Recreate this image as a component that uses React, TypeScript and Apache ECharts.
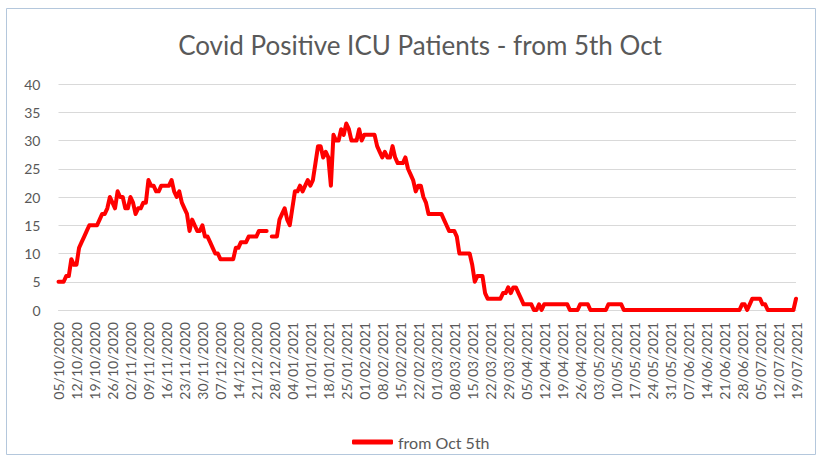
import React, { useEffect, useRef } from "react";
import * as echarts from "echarts";

// Daily ICU patient counts, 05/10/2020 .. 19/07/2021, split by month
const oct2020 = [5, 5, 5, 6, 6, 9, 8, 8, 11, 12, 13, 14, 15, 15, 15, 15, 16, 17, 17, 18, 20, 19, 18, 21, 20, 20, 18];
const nov2020 = [18, 20, 19, 17, 18, 18, 19, 19, 23, 22, 22, 21, 21, 22, 22, 22, 22, 23, 21, 20, 21, 19, 18, 17, 14, 16, 15, 14, 14, 15];
const dec2020 = [13, 13, 12, 11, 10, 10, 9, 9, 9, 9, 9, 9, 11, 11, 12, 12, 12, 13, 13, 13, 13, 14, 14, 14, 14, null, 13, 13, 13, 16, 17];
const jan2021 = [18, 16, 15, 18, 21, 21, 22, 21, 22, 23, 22, 23, 26, 29, 29, 27, 28, 27, 22, 31, 30, 30, 32, 31, 33, 32, 30, 30, 30, 32, 30];
const feb2021 = [31, 31, 31, 31, 31, 29, 28, 27, 28, 27, 27, 29, 27, 26, 26, 26, 27, 25, 24, 23, 21, 22, 22, 20, 19, 17, 17, 17];
const mar2021 = [17, 17, 17, 16, 15, 14, 14, 14, 13, 10, 10, 10, 10, 10, 8, 5, 6, 6, 6, 3, 2, 2, 2, 2, 2, 2, 3, 3, 4, 3, 4];
const apr2021 = [4, 3, 2, 1, 1, 1, 1, 0, 0, 1, 0, 1, 1, 1, 1, 1, 1, 1, 1, 1, 1, 0, 0, 0, 0, 1, 1, 1, 1, 0];
const may2021 = [0, 0, 0, 0, 0, 0, 1, 1, 1, 1, 1, 1, 0, 0, 0, 0, 0, 0, 0, 0, 0, 0, 0, 0, 0, 0, 0, 0, 0, 0, 0];
const jun2021 = [0, 0, 0, 0, 0, 0, 0, 0, 0, 0, 0, 0, 0, 0, 0, 0, 0, 0, 0, 0, 0, 0, 0, 0, 0, 0, 0, 1, 1, 0];
const jul2021 = [1, 2, 2, 2, 2, 1, 1, 0, 0, 0, 0, 0, 0, 0, 0, 0, 0, 0, 2];

// month blocks: [year, month (1-12), first day, values]
const months: [number, number, number, (number | null)[]][] = [
  [2020, 10, 5, oct2020],
  [2020, 11, 1, nov2020],
  [2020, 12, 1, dec2020],
  [2021, 1, 1, jan2021],
  [2021, 2, 1, feb2021],
  [2021, 3, 1, mar2021],
  [2021, 4, 1, apr2021],
  [2021, 5, 1, may2021],
  [2021, 6, 1, jun2021],
  [2021, 7, 1, jul2021],
];

const seriesName = "from Oct 5th";
const titleText = "Covid Positive ICU Patients - from 5th Oct";

const pad = (n: number) => (n < 10 ? "0" + n : "" + n);

const categories: string[] = [];
const values: (number | null)[] = [];
months.forEach(([y, m, d0, vals]) => {
  vals.forEach((v, i) => {
    categories.push(pad(d0 + i) + "/" + pad(m) + "/" + y);
    values.push(v);
  });
});

const FONT = "Lato";
const TXT = "#595959";
const GRID = "#d9d9d9";

export default function App() {
  const ref = useRef<HTMLDivElement>(null);
  useEffect(() => {
    if (!ref.current) return;
    const chart = echarts.init(ref.current, null, { renderer: "svg" });
    chart.setOption({
      animation: false,
      backgroundColor: "#ffffff",
      title: {
        text: titleText,
        left: 415,
        textAlign: "center",
        top: 27,
        textStyle: { fontFamily: FONT, fontSize: 26, fontWeight: "normal", color: TXT },
      },
      graphic: [
        {
          type: "rect",
          shape: { x: 6.5, y: 8.5, width: 809, height: 446 },
          style: { fill: "none", stroke: "#b4c7dc", lineWidth: 1 },
          silent: true,
        },
      ],
      legend: {
        data: [{ name: seriesName, icon: "roundRect" }],
        left: 347,
        top: 429,
        itemWidth: 41,
        itemHeight: 5,
        itemGap: 5,
        textStyle: { fontFamily: FONT, fontSize: 16, color: TXT },
      },
      grid: { left: 58.5, right: 24, top: 84, bottom: 147, containLabel: false },
      xAxis: {
        type: "category",
        data: categories,
        boundaryGap: false,
        axisLine: { lineStyle: { color: GRID, width: 1 } },
        axisTick: { show: false },
        axisLabel: {
          interval: 6,
          rotate: 90,
          margin: 12,
          fontFamily: FONT,
          fontSize: 14,
          color: TXT,
        },
        splitLine: { show: false },
      },
      yAxis: {
        type: "value",
        min: 0,
        max: 40,
        interval: 5,
        axisLine: { show: false },
        axisTick: { show: false },
        axisLabel: { margin: 18, fontFamily: FONT, fontSize: 14, color: TXT },
        splitLine: { lineStyle: { color: GRID, width: 1 } },
      },
      series: [
        {
          name: seriesName,
          type: "line",
          data: values,
          showSymbol: false,
          symbol: "none",
          connectNulls: false,
          lineStyle: { color: "#ff0000", width: 4, join: "round", cap: "round" },
          itemStyle: { color: "#ff0000" },
        },
      ],
    });
    return () => chart.dispose();
  }, []);
  return (
    <div
      ref={ref}
      style={{ position: "fixed", left: 0, top: 0, width: 820, height: 457 }}
    />
  );
}
